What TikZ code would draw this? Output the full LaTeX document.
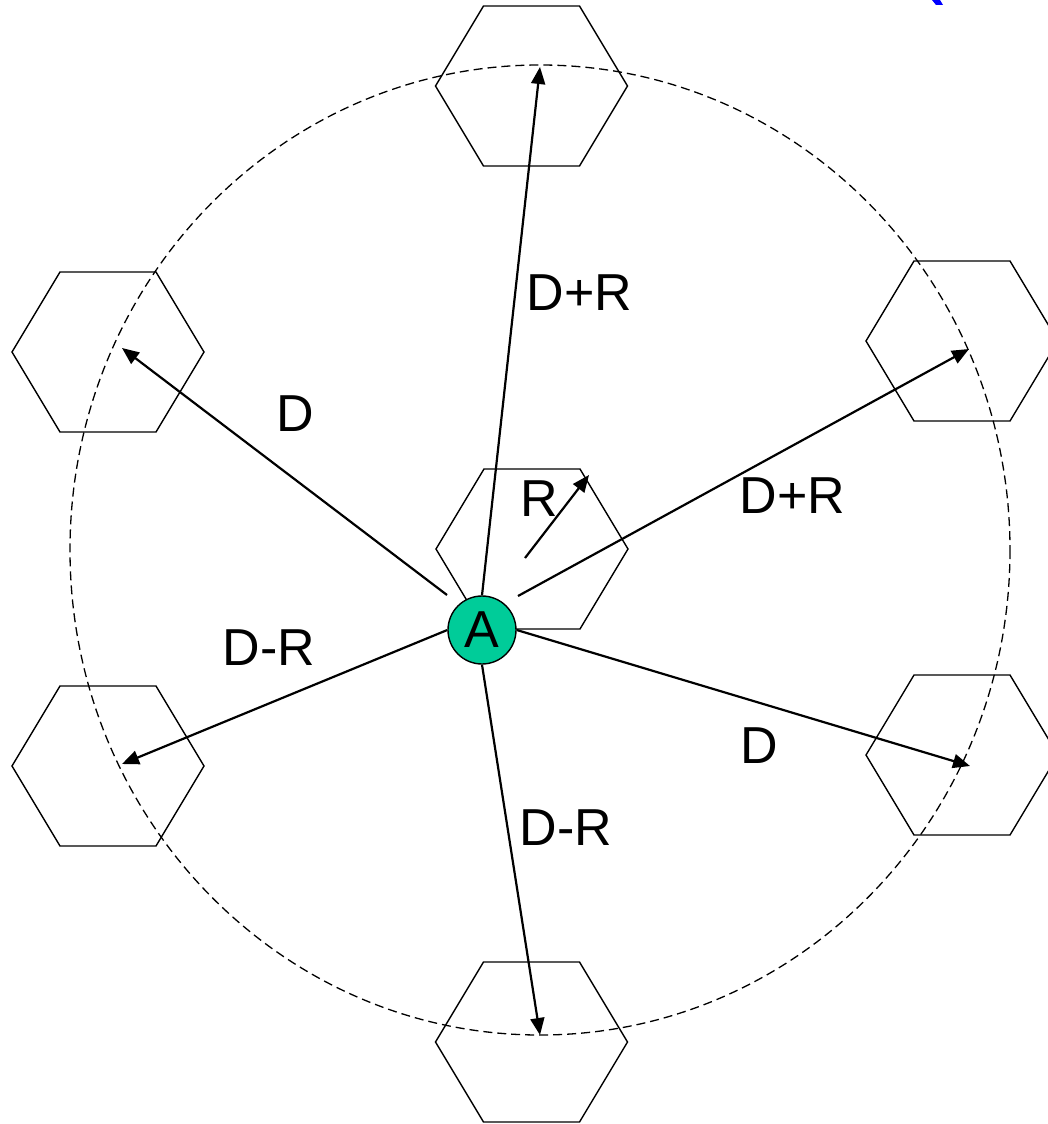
\documentclass[tikz,border=0pt]{standalone}
\usepackage{fontspec}
\setmainfont{Liberation Sans}
\usetikzlibrary{arrows.meta}
\definecolor{nodegreen}{RGB}{0,204,153}
\begin{document}
\begin{tikzpicture}[x=1pt,y=-1pt,
  hexline/.style={line width=1.4pt,line join=miter},
  hexa/.pic={\draw[hexline] (-96,0) -- (-48,-80) -- (48,-80) -- (96,0) -- (48,80) -- (-48,80) -- cycle;},
  ray/.style={line width=2.2pt,-{Triangle[length=17pt,width=14pt]}},
  lbl/.style={font=\fontsize{52}{52}\selectfont,inner sep=0pt,anchor=base},
  rangeline/.style={line width=1.3pt,dash pattern=on 9pt off 5pt}]
\useasboundingbox (0,0) rectangle (1047,1124);

% hexagonal cells
\pic at (531.5,86) {hexa};
\pic at (532,549) {hexa};
\pic at (962,341) {hexa};
\pic at (962,755) {hexa};
\pic at (108,352) {hexa};
\pic at (108,766) {hexa};
\pic at (531.5,1042) {hexa};

% interference range
\draw[rangeline] (540,550) ellipse [x radius=470, y radius=485];

% station A
\node[circle,draw,line width=1.4pt,fill=nodegreen,minimum size=68pt,inner sep=0pt,
      font=\fontsize{52}{52}\selectfont] (A) at (482,630) {\raisebox{-1pt}{A}};

% ray end points
\coordinate (tN)  at (540,67);
\coordinate (tNE) at (969,349);
\coordinate (tNW) at (122,348);
\coordinate (tSW) at (122,764);
\coordinate (tSE) at (970,766);
\coordinate (tS)  at (540,1035);
\coordinate (sNE) at (518,596);
\coordinate (sNW) at (447,595);
\coordinate (rS)  at (525,558);
\coordinate (rE)  at (589,475);

\draw[ray] (A.north) -- (tN);
\draw[ray] (sNE) -- (tNE);
\draw[ray] (sNW) -- (tNW);
\draw[ray] (A.west) -- (tSW);
\draw[ray] (A.east) -- (tSE);
\draw[ray] (A.south) -- (tS);
\draw[ray] (rS) -- (rE);

% distance labels
\node[lbl] (l1) at (579.5,310) {D+R};
\node[lbl] (l2) at (792.5,513) {D+R};
\node[lbl] (l3) at (269,665) {D-R};
\node[lbl] (l4) at (566,845) {D-R};
\node[lbl] (l5) at (295,431) {D};
\node[lbl] (l6) at (759,763) {D};
\node[lbl] (l7) at (539.5,516) {R};

% clipped glyph at the top edge
\fill[blue] (932,0) -- (940,0) -- (943,5) -- (936,5) -- cycle;
\end{tikzpicture}
\end{document}
